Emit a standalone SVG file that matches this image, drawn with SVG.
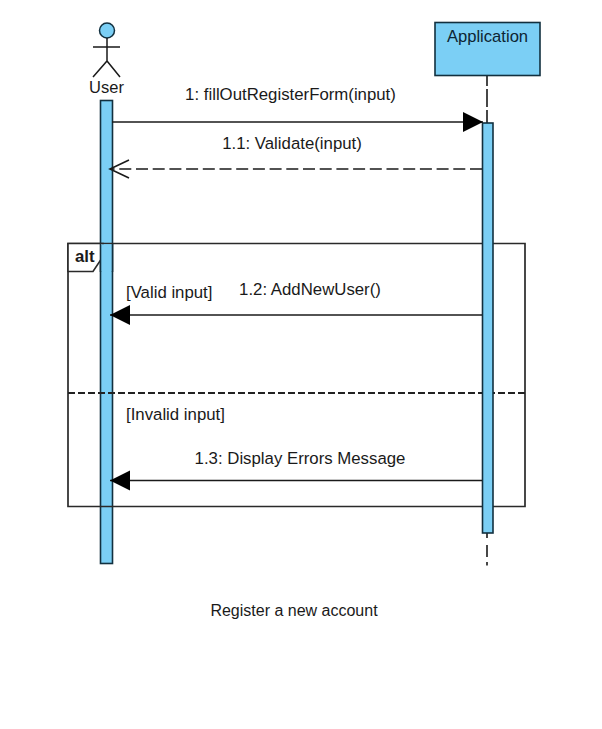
<svg xmlns="http://www.w3.org/2000/svg" width="602" height="729" viewBox="0 0 602 729">
<style>
text{font-family:"Liberation Sans",Arial,sans-serif;font-size:16.800px;fill:#1a1a1a}
.bar{fill:#7bcff5;stroke:#12303f;stroke-width:1.6}
.msg{fill:none;stroke:#1a1a1a;stroke-width:1.7}
.dash{stroke-dasharray:12 4.700}
.life{fill:none;stroke:#333;stroke-width:1.800}
.frame{fill:none;stroke:#2a2a2a;stroke-width:1.700}
</style>
<defs>
<marker id="solidHead" markerUnits="userSpaceOnUse" markerWidth="22" markerHeight="22" refX="20" refY="10" orient="auto"><path d="M0 0L20 10L0 20Z" fill="#000"/></marker>
<marker id="openHead" markerUnits="userSpaceOnUse" markerWidth="22" markerHeight="22" refX="20" refY="10" orient="auto"><path d="M1 1L20 10L1 19" fill="none" stroke="#1a1a1a" stroke-width="1.6"/></marker>
</defs>
<rect width="602" height="729" fill="#fff"/>
<g id="app-lifeline-line"><path d="M487 76V86M487 89V107M487 110V123M487 533V538M487 545V557M487 562V565.500" class="life"/></g>
<g id="user-activation"><rect x="100.500" y="100.500" width="12" height="463" class="bar"/></g>
<g id="fragment-alt">
<path d="M68 243.500H525V506.500H68Z" class="frame"/>
<path d="M68 243.500H103L102 258L93 271.500H68Z" fill="#fff" stroke="#2a2a2a" stroke-width="1.600"/>
<rect x="100.500" y="244.300" width="12" height="27" fill="#7bcff5"/>
<path d="M100.500 244V272M112.500 244V272" stroke="#12303f" stroke-width="1.600"/>
<path d="M68 393H525" fill="none" stroke="#222" stroke-width="1.800" stroke-dasharray="7 3"/>
<text x="75" y="262" style="font-weight:700">alt</text>
<text x="126" y="298">[Valid input]</text>
<text x="126" y="420">[Invalid input]</text>
</g>
<g id="user">
<circle cx="107" cy="30.500" r="7.500" fill="#7bcff5" stroke="#12303f" stroke-width="1.500"/>
<path d="M107 38V61M93 47H120M93 77L107 61L120 77" fill="none" stroke="#1a1a1a" stroke-width="1.500"/>
<text x="106.500" y="93" text-anchor="middle" style="font-size:16.500px">User</text>
</g>
<g id="application">
<rect x="435" y="22.500" width="105" height="53" class="bar"/>
<text x="487.500" y="42" text-anchor="middle" style="font-size:16.600px;fill:#0d2533">Application</text>
</g>
<g id="application-activation"><rect x="482.500" y="123" width="10.500" height="410" class="bar"/></g>
<g id="connectors">
<path d="M112 122H483" class="msg" marker-end="url(#solidHead)"/>
<path d="M482 169H110" class="msg dash" marker-end="url(#openHead)"/>
<path d="M482 315H110" class="msg" marker-end="url(#solidHead)"/>
<path d="M482 480.500H110" class="msg" marker-end="url(#solidHead)"/>
</g>
<g id="labels">
<text x="290.500" y="100" text-anchor="middle">1: fillOutRegisterForm(input)</text>
<text x="292" y="149" text-anchor="middle">1.1: Validate(input)</text>
<text x="310" y="295" text-anchor="middle">1.2: AddNewUser()</text>
<text x="300" y="464" text-anchor="middle">1.3: Display Errors Message</text>
<text x="294" y="616" text-anchor="middle" style="font-size:16px">Register a new account</text>
</g>
</svg>
